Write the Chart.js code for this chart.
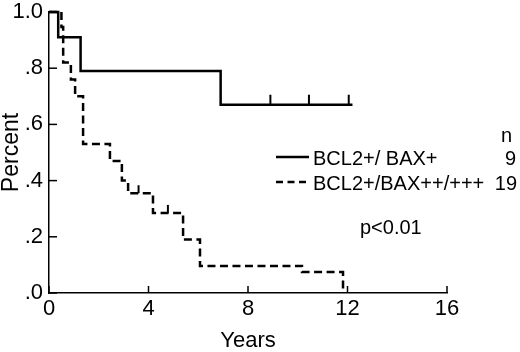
<!DOCTYPE html>
<html>
<head>
<meta charset="utf-8">
<script src="https://cdn.jsdelivr.net/npm/chart.js@4.4.1/dist/chart.umd.min.js"></script>
<style>
  html, body { margin: 0; padding: 0; background: #fff; }
  #wrap { width: 520px; height: 352px; }
</style>
</head>
<body>
<div id="wrap"><canvas id="km"></canvas></div>
<script>
// survival steps (years, proportion)
const lowTimes = [0, 0.37, 1.27, 6.9, 12.2];
const lowSurv = [1.0, 0.91, 0.79, 0.67, 0.67];
const lowCensorTimes = [8.9, 10.45, 12.05];
const lowCensorSurv = [0.67, 0.67, 0.67];

const highTimes = [0, 0.5, 0.57, 0.88, 1.05, 1.37, 2.45, 2.93, 3.18, 4.18, 5.39, 6.07, 10.17, 11.82];
const highSurv = [1.0, 0.947, 0.82, 0.76, 0.70, 0.53, 0.47, 0.40, 0.355, 0.285, 0.19, 0.096, 0.075, 0];
const highCensorTimes = [3.6, 4.78];
const highCensorSurv = [0.355, 0.285];

const groupLabels = ["BCL2+/ BAX+", "BCL2+/BAX++/+++"];
const groupN = ["9", "19"];
const pText = "p<0.01";

const FONT = '"Liberation Sans", Arial, Helvetica, sans-serif';

function toSteps(xs, ys) {
  return xs.map((x, i) => ({ x: x, y: ys[i] }));
}

// inward tick marks, drawn from the scales
const inwardTicks = {
  id: "inwardTicks",
  afterDraw(chart) {
    const ctx = chart.ctx;
    const xs = chart.scales.x, ys = chart.scales.y;
    const area = chart.chartArea;
    ctx.save();
    ctx.strokeStyle = "#000";
    ctx.lineWidth = 1.5;
    xs.ticks.forEach(t => {
      const px = xs.getPixelForValue(t.value);
      ctx.beginPath();
      ctx.moveTo(px, area.bottom);
      ctx.lineTo(px, area.bottom - 7);
      ctx.stroke();
    });
    ys.ticks.forEach(t => {
      const py = ys.getPixelForValue(t.value);
      ctx.beginPath();
      ctx.moveTo(area.left, py);
      ctx.lineTo(area.left + 8, py);
      ctx.stroke();
    });
    ctx.restore();
  }
};

// censoring marks: short upward strokes
const censorMarks = {
  id: "censorMarks",
  afterDatasetsDraw(chart) {
    const ctx = chart.ctx;
    const xs = chart.scales.x, ys = chart.scales.y;
    ctx.save();
    ctx.strokeStyle = "#000";
    ctx.lineWidth = 2;
    const draw = (times, surv, h) => {
      times.forEach((t, i) => {
        const px = xs.getPixelForValue(t);
        const py = ys.getPixelForValue(surv[i]);
        ctx.beginPath();
        ctx.moveTo(px, py);
        ctx.lineTo(px, py - h);
        ctx.stroke();
      });
    };
    draw(lowCensorTimes, lowCensorSurv, 10);
    draw(highCensorTimes, highCensorSurv, 8);
    ctx.restore();
  }
};

// legend block with n column and p value
const legendBlock = {
  id: "legendBlock",
  afterDraw(chart) {
    const ctx = chart.ctx;
    ctx.save();
    ctx.fillStyle = "#000";
    ctx.strokeStyle = "#000";
    ctx.lineWidth = 2.5;
    ctx.font = "20px " + FONT;
    ctx.textBaseline = "alphabetic";

    ctx.beginPath();
    ctx.moveTo(276, 157);
    ctx.lineTo(309, 157);
    ctx.stroke();
    ctx.setLineDash([7, 4.5]);
    ctx.beginPath();
    ctx.moveTo(276, 182);
    ctx.lineTo(310, 182);
    ctx.stroke();
    ctx.setLineDash([]);

    ctx.textAlign = "left";
    ctx.fillText(groupLabels[0], 313, 165);
    ctx.fillText(groupLabels[1], 313, 190);

    ctx.textAlign = "right";
    ctx.fillText("n", 512, 142);
    ctx.fillText(groupN[0], 516, 165);
    ctx.fillText(groupN[1], 517, 190);

    ctx.textAlign = "left";
    ctx.fillText(pText, 360, 234);
    ctx.restore();
  }
};

new Chart(document.getElementById("km"), {
  type: "line",
  data: {
    datasets: [
      {
        label: groupLabels[0],
        data: toSteps(lowTimes, lowSurv),
        stepped: "before",
        borderColor: "#000",
        borderWidth: 2.5,
        pointRadius: 0,
        fill: false,
        clip: 6
      },
      {
        label: groupLabels[1],
        data: toSteps(highTimes, highSurv),
        stepped: "before",
        borderColor: "#000",
        borderWidth: 2.5,
        borderDash: [8, 4.5],
        pointRadius: 0,
        fill: false,
        clip: 6
      }
    ]
  },
  options: {
    responsive: true,
    maintainAspectRatio: false,
    animation: false,
    events: [],
    layout: { padding: { top: 12, right: 73, left: 0, bottom: 0 } },
    plugins: {
      legend: { display: false },
      tooltip: { enabled: false }
    },
    scales: {
      x: {
        type: "linear",
        min: 0,
        max: 16,
        afterFit: s => { s.height = 59; },
        grid: { drawOnChartArea: false, drawTicks: false },
        border: { display: true, color: "#000", width: 1.5 },
        ticks: {
          stepSize: 4,
          padding: 3,
          color: "#000",
          font: { family: FONT, size: 22 }
        },
        title: {
          display: true,
          text: "Years",
          color: "#000",
          font: { family: FONT, size: 22, lineHeight: 1 },
          padding: { top: 0, bottom: 0 }
        }
      },
      y: {
        min: 0,
        max: 1,
        afterFit: s => { s.width = 49; s.paddingTop = 0; s.paddingBottom = 0; },
        grid: { drawOnChartArea: false, drawTicks: false },
        border: { display: true, color: "#000", width: 1.5 },
        ticks: {
          stepSize: 0.2,
          padding: 6,
          color: "#000",
          font: { family: FONT, size: 22 },
          callback: v => (v >= 0.999 ? "1.0" : "." + Math.round(v * 10))
        },
        title: {
          display: true,
          text: "Percent",
          color: "#000",
          font: { family: FONT, size: 23, lineHeight: 1 },
          padding: { top: 0, bottom: 0 }
        }
      }
    }
  },
  plugins: [inwardTicks, censorMarks, legendBlock]
});
</script>
</body>
</html>
